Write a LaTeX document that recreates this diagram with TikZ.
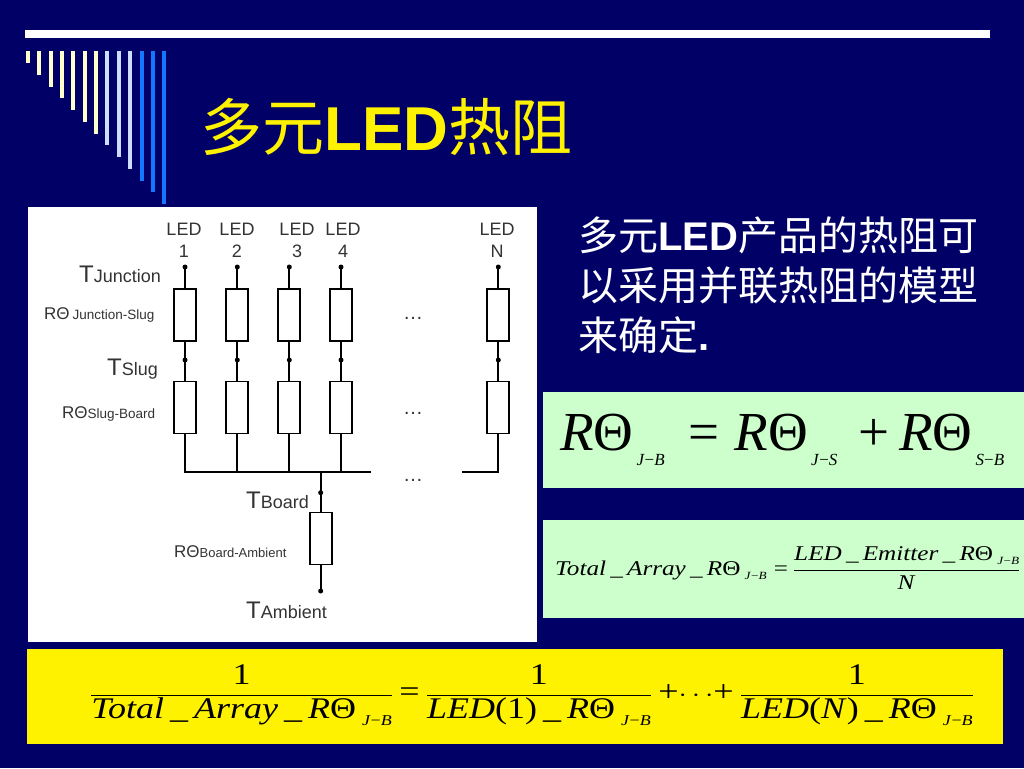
\documentclass[tikz,border=0pt]{standalone}
\usepackage{fontspec}
\setmainfont{Liberation Serif}
\setsansfont{Liberation Sans}
\newfontfamily\cjk{Noto Sans CJK SC}

\definecolor{bgblue}{RGB}{0,0,102}
\definecolor{cream}{RGB}{255,255,204}
\definecolor{paleblue}{RGB}{204,221,255}
\definecolor{midblue}{RGB}{20,120,255}
\definecolor{mint}{RGB}{204,255,204}

\newcommand{\RT}{\textit{R}Θ}
\newcommand{\lo}[3]{\raisebox{#1}{\fontsize{#2}{#2}\selectfont #3}}

\begin{document}
\begin{tikzpicture}[x=1pt, y=-1pt]
    \tikzstyle{every node} = [inner sep=0pt]
    \tikzstyle{res} = [draw, rectangle, minimum width=22pt, minimum height=52pt, line width=1.8pt]
    \tikzstyle{jdot} = [circle, fill, minimum size=5pt]
    \tikzstyle{wire} = [line width=1.8pt, line cap=rect]
    \tikzstyle{lbl} = [font=\sffamily, text=black!80]
    \useasboundingbox (0,0) rectangle (1024,768);
    \fill [bgblue] (0,0) rectangle (1024,768);
    % top bar and fringe
    \fill [white] (25,30) rectangle (990,38);
    \foreach \i/\c in {0/cream,1/cream,2/cream,3/cream,4/cream,5/cream,6/cream,
                       7/paleblue,8/paleblue,9/paleblue,10/midblue,11/midblue,12/midblue}
      \fill [\c] (26+11.35*\i,51) rectangle (30+11.35*\i,63+11.75*\i);
    \node (title) [anchor=base west, text=yellow] at (200,150)
      {\fontsize{62}{62}\selectfont{\cjk 多元}\textbf{\sffamily LED}{\cjk 热阻}};
    % boxes
    \fill [white] (28,207) rectangle (537,642);
    \fill [mint] (543,392) rectangle (1024,488);
    \fill [mint] (543,520) rectangle (1024,618);
    \fill [yellow] (27,649) rectangle (1003,744);
    % circuit
    \foreach \n/\x in {1/185, 2/237.3, 3/289.3, 4/341, 5/498.3} {
      \node (j\n) [jdot] at (\x,267) {};
      \node (ra\n) [res] at (\x,315) {};
      \node (s\n) [jdot] at (\x,360) {};
      \node (rb\n) [res] at (\x,407.5) {};
      \coordinate (b\n) at (\x,472);
      \draw [wire] (j\n) -- (ra\n) -- (s\n) -- (rb\n) -- (b\n);
    }
    \coordinate (be) at (370,472);
    \coordinate (bs) at (463,472);
    \draw [wire] (b1) -- (be);
    \draw [wire] (bs) -- (b5);
    \coordinate (bo) at (320.7,472);
    \node (tb) [jdot] at (320.7,492.7) {};
    \node (rc) [res] at (320.7,538.5) {};
    \node (ta) [jdot] at (320.7,591) {};
    \draw [wire] (bo) -- (tb) -- (rc) -- (ta);
    % circuit labels
    \foreach \n/\x/\t in {1/184/1, 2/237/2, 3/297/3, 4/343/4, 5/497/N}
      \node (h\n) [lbl, font=\sffamily\fontsize{18}{22}\selectfont, align=center, anchor=north] at (\x,223)
        {LED\\\t};
    \node (tj) [lbl, anchor=base west] at (79,282)
      {\fontsize{24}{24}\selectfont T\fontsize{18}{18}\selectfont Junction};
    \node (ts) [lbl, anchor=base west] at (107,375)
      {\fontsize{24}{24}\selectfont T\fontsize{18}{18}\selectfont Slug};
    \node (tbl) [lbl, anchor=base west] at (246,508)
      {\fontsize{24}{24}\selectfont T\fontsize{18}{18}\selectfont Board};
    \node (tal) [lbl, anchor=base west] at (246,618)
      {\fontsize{24}{24}\selectfont T\fontsize{18}{18}\selectfont Ambient};
    \node (rj) [lbl, anchor=base west] at (44,319)
      {\fontsize{17}{18}\selectfont RΘ\,\fontsize{13.5}{12}\selectfont Junction-Slug};
    \node (rs) [lbl, anchor=base west] at (62,418)
      {\fontsize{17}{18}\selectfont RΘ\fontsize{13.5}{12}\selectfont Slug-Board};
    \node (rbl) [lbl, anchor=base west] at (174,557)
      {\fontsize{17}{18}\selectfont RΘ\fontsize{13}{12}\selectfont Board-Ambient};
    \node (d1) [lbl] at (413,318) {\fontsize{20}{20}\selectfont …};
    \node (d2) [lbl] at (413,413) {\fontsize{20}{20}\selectfont …};
    \node (d3) [lbl] at (413,480) {\fontsize{20}{20}\selectfont …};
    % text and formulas
    \node (txt) [anchor=north west, text=white, align=left, font=\fontsize{40}{50}\selectfont] at (578,217)
      {{\cjk 多元}\textbf{\sffamily LED}{\cjk 产品的热阻可}\\
       {\cjk 以采用并联热阻的模型}\\{\cjk 来确定}\textbf{\sffamily .}};
    \node (f1) [anchor=base west] at (560,450)
      {\fontsize{55}{60}\selectfont\RT\hspace{3pt}\lo{-15pt}{17}{\textit{J}−\textit{B}}\hspace{24pt}=\hspace{15pt}%
       \RT\hspace{3pt}\lo{-15pt}{17}{\textit{J}−\textit{S}}\hspace{21pt}+\hspace{10pt}%
       \RT\hspace{3pt}\lo{-15pt}{17}{\textit{S}−\textit{B}}};
    \node (f2) [anchor=base west] at (555,575)
      {\fontsize{21}{24}\selectfont\scalebox{1.2}[1]{\textit{Total}\,\_\,\textit{Array}\,\_\,\RT\,\lo{-4pt}{11}{\textit{J}−\textit{B}}\hspace{6pt}=\hspace{4pt}%
       $\displaystyle\frac{\mbox{\textit{LED}\,\_\,\textit{Emitter}\,\_\,\RT\,\lo{-4pt}{11}{\textit{J}−\textit{B}}}}{\mbox{\textit{N}}}$}};
    \node (f3) [anchor=base] at (532,701)
      {\fontsize{30}{34}\selectfont\scalebox{1.2}[1]{%
       $\displaystyle\frac{\mbox{1}}{\mbox{\textit{Total}\,\_\,\textit{Array}\,\_\,\RT\,\lo{-7pt}{15}{\textit{J}−\textit{B}}}}$\,=\,%
       $\displaystyle\frac{\mbox{1}}{\mbox{\textit{LED}(1)\,\_\,\RT\,\lo{-7pt}{15}{\textit{J}−\textit{B}}}}$\,+$\cdots$+\,%
       $\displaystyle\frac{\mbox{1}}{\mbox{\textit{LED}(\textit{N})\,\_\,\RT\,\lo{-7pt}{15}{\textit{J}−\textit{B}}}}$}};
\end{tikzpicture}
\end{document}
